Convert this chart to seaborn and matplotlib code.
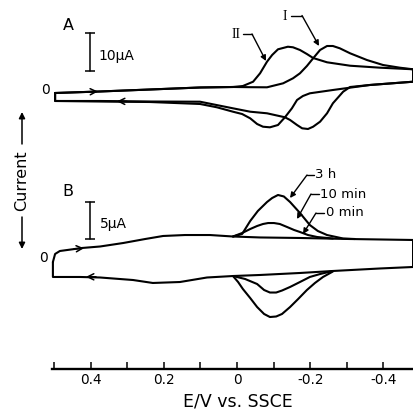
import matplotlib
matplotlib.use("Agg")
import matplotlib.pyplot as plt
import seaborn as sns

sns.set_theme(style="white")
plt.rcParams["font.family"] = ["DejaVu Sans"]

# ---------------- Panel A (current in uA, potential in V vs SSCE) ----------------
A_base_E = [0.497, 0.374, 0.238, 0.101, 0.011]
A_base_I = [-0.79, -0.39, 0.13, 0.66, 0.79]

# curve II
A2_fwd_E = [-0.016, -0.044, -0.063, -0.082, -0.096, -0.112, -0.139, -0.153, -0.172,
            -0.191, -0.208, -0.246, -0.309, -0.391, -0.481]
A2_fwd_I = [1.05, 2.18, 4.39, 7.45, 9.21, 10.71, 11.39, 11.24, 10.53,
            9.47, 8.42, 7.29, 6.39, 5.87, 5.45]
A2_rev_E = [-0.481, -0.363, -0.262, -0.199, -0.180, -0.164, -0.150, -0.131, -0.112,
            -0.090, -0.071, -0.055, -0.036, -0.014, 0.011, 0.055, 0.101, 0.238,
            0.374, 0.497]
A2_rev_I = [2.18, 1.32, 0.0, -0.87, -1.58, -2.63, -4.82, -7.18, -9.21,
            -9.82, -9.66, -8.95, -7.45, -6.32, -5.71, -4.55, -3.68, -3.16,
            -3.03, -2.89]

# curve I
A1_fwd_E = [-0.036, -0.082, -0.126, -0.153, -0.172, -0.191, -0.208, -0.227, -0.246,
            -0.262, -0.281, -0.309, -0.355, -0.399, -0.445, -0.481]
A1_fwd_I = [0.74, 0.71, 1.76, 3.08, 4.39, 6.32, 8.34, 10.53, 11.58,
            11.58, 10.97, 9.66, 7.89, 6.58, 5.87, 5.45]
A1_rev_E = [-0.481, -0.363, -0.309, -0.290, -0.262, -0.246, -0.227, -0.208, -0.194,
            -0.178, -0.164, -0.145, -0.131, -0.082, -0.036, 0.011, 0.101, 0.238,
            0.374, 0.497]
A1_rev_I = [2.18, 1.32, 0.79, -0.45, -3.50, -6.13, -8.34, -9.66, -10.26,
            -10.08, -9.21, -7.89, -7.18, -6.13, -5.71, -4.82, -3.08, -3.03,
            -2.89, -2.89]

# ---------------- Panel B ----------------
# 0 min (full loop)
B0_fwd_E = [0.503, 0.497, 0.484, 0.423, 0.374, 0.311, 0.251, 0.202, 0.142, 0.074,
            0.011, -0.063, -0.172, -0.309, -0.481]
B0_fwd_I = [-0.68, 0.41, 0.81, 1.22, 1.42, 1.89, 2.43, 2.84, 2.97, 2.97,
            2.77, 2.64, 2.57, 2.43, 2.30]
B0_rev_E = [-0.481, -0.391, -0.262, -0.172, -0.063, 0.011, 0.082, 0.156, 0.230,
            0.284, 0.374, 0.429, 0.503]
B0_rev_I = [-1.35, -1.55, -1.89, -2.16, -2.43, -2.57, -2.77, -3.38, -3.51,
            -3.11, -2.77, -2.70, -2.70]

# 3 h (peak regions)
B3h_fwd_E = [0.011, -0.014, -0.036, -0.057, -0.082, -0.096, -0.112, -0.128, -0.145,
             -0.172, -0.199, -0.221, -0.246, -0.290, -0.322]
B3h_fwd_I = [2.77, 3.11, 4.86, 6.22, 7.43, 7.97, 8.38, 8.18, 7.43,
             5.95, 4.32, 3.51, 2.97, 2.50, 2.43]
B3h_rev_E = [-0.262, -0.235, -0.213, -0.191, -0.167, -0.145, -0.123, -0.107, -0.090,
             -0.074, -0.055, -0.036, -0.016, -0.003, 0.011]
B3h_rev_I = [-1.96, -2.70, -3.51, -4.46, -5.68, -6.76, -7.70, -8.04, -8.11,
             -7.70, -6.76, -5.54, -4.32, -3.38, -2.57]

# 10 min (peak regions)
B10_fwd_E = [0.011, -0.014, -0.036, -0.055, -0.071, -0.085, -0.101, -0.117, -0.137,
             -0.156, -0.172, -0.194, -0.219, -0.262]
B10_fwd_I = [2.77, 3.24, 3.78, 4.19, 4.46, 4.59, 4.59, 4.46, 4.05,
             3.65, 3.38, 2.97, 2.70, 2.50]
B10_rev_E = [-0.262, -0.227, -0.199, -0.172, -0.145, -0.123, -0.107, -0.090, -0.074,
             -0.055, -0.022, 0.011]
B10_rev_I = [-1.89, -2.30, -2.70, -3.38, -4.05, -4.53, -4.80, -4.80, -4.46,
             -3.65, -2.97, -2.57]

x_ticks = [0.4, 0.2, 0.0, -0.2, -0.4]
x_ticklabels = ["0.4", "0.2", "0", "-0.2", "-0.4"]
x_minor = [0.5, 0.3, 0.1, -0.1, -0.3]

# ---------------- figure ----------------
W = 413.0
fig = plt.figure(figsize=(4.13, 4.13), dpi=100)
fig.patch.set_facecolor("white")

xlim = ((237 - 52) / 366.0, (237 - 413) / 366.0)

axB = fig.add_axes([52 / W, (W - 369) / W, (413 - 52) / W, (369 - 170) / W])
axA = fig.add_axes([52 / W, (W - 160) / W, (413 - 52) / W, 160 / W])
for ax in (axA, axB):
    ax.set_facecolor("none")
    ax.set_xlim(*xlim)
axA.set_ylim((90 - 160) / 3.8, 90 / 3.8)
axB.set_ylim((257 - 369) / 7.4, (257 - 170) / 7.4)

LW = 1.5


def draw(ax, E, I):
    sns.lineplot(x=E, y=I, sort=False, estimator=None, color="black", lw=LW,
                 ax=ax, clip_on=False, legend=False)


# Panel A loops
A2_E = A_base_E + A2_fwd_E + A2_rev_E + [A_base_E[0]]
A2_I = A_base_I + A2_fwd_I + A2_rev_I + [A_base_I[0]]
A1_E = A_base_E + A1_fwd_E + A1_rev_E + [A_base_E[0]]
A1_I = A_base_I + A1_fwd_I + A1_rev_I + [A_base_I[0]]
draw(axA, A2_E, A2_I)
draw(axA, A1_E, A1_I)

# Panel B
B0_E = B0_fwd_E + B0_rev_E + [B0_fwd_E[0]]
B0_I = B0_fwd_I + B0_rev_I + [B0_fwd_I[0]]
draw(axB, B0_E, B0_I)
draw(axB, B3h_fwd_E, B3h_fwd_I)
draw(axB, B3h_rev_E, B3h_rev_I)
draw(axB, B10_fwd_E, B10_fwd_I)
draw(axB, B10_rev_E, B10_rev_I)

# scale bars (data units)
xb = (237 - 90) / 366.0
axA.plot([xb, xb], [5.0, 15.0], color="black", lw=1.1, marker="_", ms=7, mew=1.1,
         clip_on=False)
axB.plot([xb, xb], [2.43, 7.43], color="black", lw=1.1, marker="_", ms=7, mew=1.1,
         clip_on=False)

# axes styling
axA.set_axis_off()
for s in ("left", "right", "top"):
    axB.spines[s].set_visible(False)
axB.spines["bottom"].set_linewidth(1.7)
axB.spines["bottom"].set_color("black")
axB.set_yticks([])
axB.set_xticks(x_ticks)
axB.set_xticklabels(x_ticklabels)
axB.set_xticks(x_minor, minor=True)
axB.tick_params(axis="x", which="both", direction="in", length=5, width=1.1,
                color="black", labelsize=9.8, pad=3, bottom=True, labelcolor="black")
axB.set_xlabel("E/V vs. SSCE", fontsize=12.5, color="black")
axB.xaxis.set_label_coords((238 - 52) / 361.0, -33 / 199.0)
axB.xaxis.label.set_va("center")
axB.grid(False)

# ---------------- overlay (pixel coordinates) ----------------
ov = fig.add_axes([0, 0, 1, 1])
ov.set_xlim(0, W)
ov.set_ylim(W, 0)
ov.set_axis_off()
ov.patch.set_visible(False)

txt = dict(color="black", ha="center", va="center")
ov.text(68, 25, "A", fontsize=11.5, **txt)
ov.text(68, 192, "B", fontsize=11.5, **txt)
ov.text(46, 90, "0", fontsize=10, **txt)
ov.text(44, 258, "0", fontsize=10, **txt)
ov.text(98, 56, "10\u03bcA", fontsize=10, color="black", ha="left", va="center")
ov.text(100, 224, "5\u03bcA", fontsize=10, color="black", ha="left", va="center")
ov.text(22, 181, "Current", fontsize=11.5, rotation=90, **txt)

arr = dict(arrowstyle="-|>", color="black", lw=1.1, mutation_scale=9, shrinkA=0, shrinkB=0)
ov.annotate("", xy=(22, 112), xytext=(22, 144), arrowprops=arr)
ov.annotate("", xy=(22, 249), xytext=(22, 217), arrowprops=arr)

# leaders
serif = ["Liberation Serif", "DejaVu Serif"]
ov.text(285, 16, "I", fontsize=10, family=serif, **txt)
ov.text(236, 35, "II", fontsize=10, family=serif, **txt)
ov.text(315, 175, "3 h", fontsize=9.5, color="black", ha="left", va="center")
ov.text(320, 195, "10 min", fontsize=9.5, color="black", ha="left", va="center")
ov.text(326, 213, "0 min", fontsize=9.5, color="black", ha="left", va="center")

lead = dict(arrowstyle="-|>", color="black", lw=1.0, mutation_scale=8, shrinkA=0, shrinkB=0)
for (h0, h1, yy, tip) in [
    (291, 302, 15.5, (319, 46)),
    (243, 252, 34, (266, 61)),
    (314, 307, 175, (290, 198)),
    (319, 311, 194, (297, 219)),
    (324, 316, 213, (303, 234)),
]:
    ov.plot([h0, h1], [yy, yy], color="black", lw=1.0)
    ov.annotate("", xy=tip, xytext=(h1, yy), arrowprops=lead)

# direction chevrons on the sweeps
chev = dict(arrowstyle="->", color="black", lw=1.1, mutation_scale=11, shrinkA=0, shrinkB=0)
ov.annotate("", xy=(98, 91.5), xytext=(88, 91.8), arrowprops=chev)
ov.annotate("", xy=(117, 101.3), xytext=(127, 101.4), arrowprops=chev)
ov.annotate("", xy=(84, 248.2), xytext=(74, 248.9), arrowprops=chev)
ov.annotate("", xy=(86, 276.8), xytext=(96, 276.8), arrowprops=chev)

fig.savefig("out.png", dpi=100)
